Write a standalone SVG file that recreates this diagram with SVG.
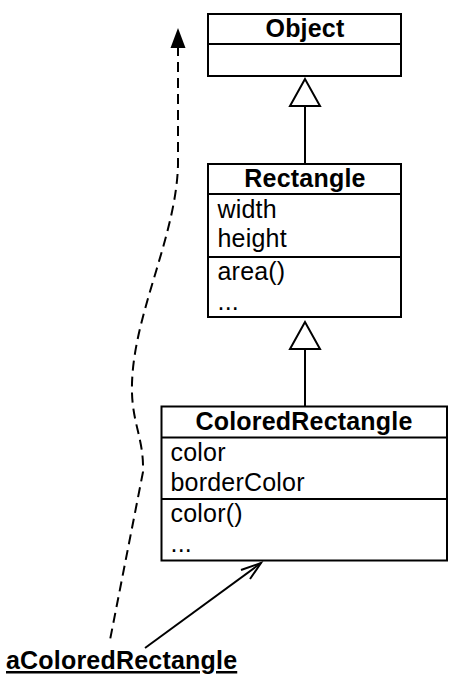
<svg xmlns="http://www.w3.org/2000/svg" width="454" height="684" viewBox="0 0 454 684">
<style>
.box{fill:#fff;stroke:#000;stroke-width:2}
.div{stroke:#000;stroke-width:2}
.t{font-family:"Liberation Sans",Arial,sans-serif;font-size:25px;letter-spacing:0.2px;fill:#000}
.b{font-weight:bold}
.c{text-anchor:middle}
.line{fill:none;stroke:#000;stroke-width:2}
.dash{fill:none;stroke:#000;stroke-width:2;stroke-dasharray:10 6}
.tri{fill:#fff;stroke:#000;stroke-width:2}
</style>
<rect width="454" height="684" fill="#fff"/>
<g id="connectors">
  <line class="line" x1="305" y1="106" x2="305" y2="164"/>
  <polygon class="tri" points="305,79 290,106 320,106"/>
  <line class="line" x1="305" y1="349" x2="305" y2="406"/>
  <polygon class="tri" points="305,322 290,349 320,349"/>
  <path class="dash" d="M178,46 L178,165 C176,240 130,320 132,393 C133,425 144,440 143,472 L110,640"/>
  <polygon points="178,28 170.5,48 185.5,48" fill="#000"/>
  <line class="line" x1="145" y1="648" x2="261" y2="563"/>
  <polyline class="line" points="241,570 261,563 250,579"/>
</g>
<g id="Object">
  <rect class="box" x="208" y="14" width="193" height="62"/>
  <line class="div" x1="208" y1="44" x2="401" y2="44"/>
  <text class="t b c" x="305" y="37">Object</text>
</g>
<g id="Rectangle">
  <rect class="box" x="208" y="164" width="193" height="153"/>
  <line class="div" x1="208" y1="194" x2="401" y2="194"/>
  <line class="div" x1="208" y1="257" x2="401" y2="257"/>
  <text class="t b c" x="305" y="187">Rectangle</text>
  <text class="t" x="217.5" y="218">width</text>
  <text class="t" x="217.5" y="247">height</text>
  <text class="t" x="217.5" y="280">area()</text>
  <text class="t" x="217.5" y="310">...</text>
</g>
<g id="ColoredRectangle">
  <rect class="box" x="161.5" y="406.5" width="285.5" height="154"/>
  <line class="div" x1="161.5" y1="437.5" x2="447" y2="437.5"/>
  <line class="div" x1="161.5" y1="499" x2="447" y2="499"/>
  <text class="t b c" x="304" y="430">ColoredRectangle</text>
  <text class="t" x="170.5" y="461">color</text>
  <text class="t" x="170.5" y="491">borderColor</text>
  <text class="t" x="170.5" y="522">color()</text>
  <text class="t" x="170.5" y="552">...</text>
</g>
<g id="aColoredRectangle">
  <text class="t b" x="6" y="669" text-decoration="underline">aColoredRectangle</text>
</g>
</svg>
